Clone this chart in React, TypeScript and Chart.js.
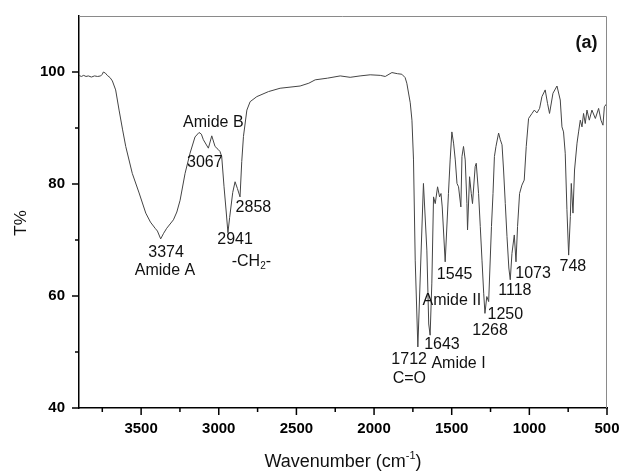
import React, { useEffect, useRef } from 'react';
import { Chart, registerables } from 'chart.js';

Chart.register(...registerables);

const FONT = '"Liberation Sans", Arial, Helvetica, sans-serif';

// Spectrum (wavenumber cm-1, transmittance %)
const wavenumbers = [
  3900, 3885, 3870, 3855, 3840, 3820, 3800, 3780, 3760, 3750, 3743, 3730, 3718, 3700, 3685, 3664, 3642, 3620, 3599,
  3557, 3513, 3470, 3440, 3410, 3395, 3374, 3355, 3335, 3292, 3270, 3249, 3217, 3185, 3153, 3127, 3112, 3099, 3067,
  3045, 3024, 3005, 2992, 2981, 2966, 2952, 2941, 2930, 2910, 2895, 2880, 2863, 2852, 2841, 2819, 2798, 2755, 2680,
  2605, 2476, 2420, 2379, 2300, 2218, 2154, 2090, 2025, 1960, 1928, 1885, 1850, 1821, 1800, 1789, 1767, 1756, 1746,
  1735, 1718, 1682, 1660, 1648, 1639, 1628, 1617, 1606, 1591, 1578, 1569, 1561, 1542, 1521, 1510, 1499, 1488, 1477,
  1466, 1456, 1441, 1434, 1424, 1413, 1402, 1398, 1385, 1374, 1366, 1349, 1342, 1327, 1316, 1305, 1294, 1286, 1274,
  1262, 1254, 1244, 1234, 1225, 1215, 1198, 1187, 1176, 1166, 1155, 1144, 1132, 1123, 1112, 1097, 1086, 1076, 1063,
  1048, 1033, 1020, 1005, 983, 968, 951, 934, 919, 898, 883, 870, 848, 822, 801, 790, 780, 769, 758, 747, 736, 730,
  719, 709, 693, 683, 672, 661, 651, 640, 629, 614, 597, 575, 554, 539, 526, 517, 500,
];
const transmittance = [
  99.4, 99.2, 99.4, 99.2, 99.3, 99.1, 99.3, 99.2, 99.3, 99.6, 100.0, 99.8, 99.4, 99.0, 98.4, 96.8, 93.2, 89.8, 86.7,
  81.9, 78.4, 74.8, 73.2, 72.1, 71.6, 70.2, 71.2, 72.1, 73.6, 75.0, 77.1, 81.9, 85.5, 88.4, 89.2, 88.9, 87.9, 86.4,
  88.6, 86.7, 86.2, 85.8, 84.9, 79.5, 75.0, 71.3, 74.0, 78.5, 80.4, 79.2, 77.7, 84.0, 88.5, 93.2, 94.7, 95.6, 96.5,
  97.1, 97.5, 98.0, 98.6, 98.9, 99.3, 99.05, 99.3, 99.5, 99.4, 99.2, 99.9, 99.7, 99.6, 99.0, 98.0, 94.5, 91.4, 84.3,
  66.4, 50.9, 80.1, 68.2, 55.0, 53.0, 62.3, 77.7, 76.5, 79.5, 77.7, 78.3, 75.9, 66.1, 78.3, 84.3, 89.3, 87.3, 84.3,
  80.1, 79.5, 75.9, 84.9, 86.7, 84.3, 76.5, 71.8, 81.3, 78.3, 76.5, 83.1, 83.7, 78.3, 72.4, 66.4, 60.5, 56.9, 59.9,
  59.0, 65.0, 72.4, 78.3, 84.9, 86.7, 89.1, 87.9, 87.0, 82.5, 76.5, 70.6, 65.0, 62.9, 67.6, 70.9, 66.1, 72.4, 78.3,
  79.8, 80.7, 86.7, 91.7, 92.6, 93.2, 92.7, 93.5, 95.6, 96.8, 94.4, 92.6, 96.2, 97.5, 95.0, 90.2, 89.3, 85.5, 75.4, 67.3, 74.2, 80.1,
  74.8, 82.5, 87.3, 89.3, 91.4, 90.2, 92.6, 90.8, 93.2, 91.4, 93.2, 91.7, 93.5, 91.4, 90.5, 93.8, 94.4,
];

// Axis ranges / ticks
const xMin = 500;
const xMax = 3900;
const xMinorStep = 250;
const xMajorStep = 500;
const yMin = 40;
const yMax = 110;
const yMinorStep = 10;
const yMajorStep = 20;
const yLabelMax = 100;

// Peak annotations (text, wavenumber, transmittance)
const labelTexts = [
  'Amide B', '3067', '2858', '2941', '-CH_{2}-', '3374', 'Amide A', '1545', 'Amide II', '1250', '1268',
  '1118', '1073', '748', '1643', '1712', 'Amide I', 'C=O',
];
const labelWavenumbers = [
  3035, 3090, 2777, 2895, 2790, 3339, 3346, 1481, 1499, 1155, 1253, 1093, 976, 720, 1563, 1774, 1456, 1773,
];
const labelValues = [
  91.0, 83.9, 75.7, 70.0, 66.1, 67.7, 64.6, 63.9, 59.1, 56.6, 53.8, 61.0, 64.0, 65.2, 51.25, 48.6, 48.0, 45.3,
];
const panelLabel = '(a)';
const panelWavenumber = 632;
const panelValue = 105.1;

const xTitle = 'Wavenumber (cm^{-1})';
const yTitle = 'T%';

type Part = { t: string; k: 'n' | 'sub' | 'sup' };
function parseRich(text: string): Part[] {
  const parts: Part[] = [];
  const re = /(_\{[^}]*\}|\^\{[^}]*\})/g;
  let last = 0;
  let m: RegExpExecArray | null;
  while ((m = re.exec(text))) {
    if (m.index > last) parts.push({ t: text.slice(last, m.index), k: 'n' });
    const s = m[0];
    parts.push({ t: s.slice(2, -1), k: s[0] === '_' ? 'sub' : 'sup' });
    last = m.index + s.length;
  }
  if (last < text.length) parts.push({ t: text.slice(last), k: 'n' });
  return parts;
}

function drawRich(ctx: CanvasRenderingContext2D, text: string, x: number, y: number, size: number, weight: string) {
  const parts = parseRich(text);
  const small = Math.round(size * 0.62);
  const fontFor = (p: Part) => `${weight} ${p.k === 'n' ? size : small}px ${FONT}`;
  let total = 0;
  const widths = parts.map((p) => {
    ctx.font = fontFor(p);
    const w = ctx.measureText(p.t).width;
    total += w;
    return w;
  });
  let cx = x - total / 2;
  ctx.textAlign = 'left';
  parts.forEach((p, i) => {
    ctx.font = fontFor(p);
    const dy = p.k === 'sub' ? size * 0.28 : p.k === 'sup' ? -size * 0.42 : 0;
    ctx.fillText(p.t, cx, y + dy);
    cx += widths[i];
  });
}

const decorPlugin = {
  id: 'decor',
  afterDraw(chart: any) {
    const { ctx, chartArea } = chart;
    const xs = chart.scales.x;
    const ys = chart.scales.y;
    ctx.save();
    // top & right frame
    ctx.strokeStyle = '#8a8a8a';
    ctx.lineWidth = 1;
    ctx.beginPath();
    ctx.moveTo(chartArea.left, chartArea.top + 0.5);
    ctx.lineTo(chartArea.right - 0.5, chartArea.top + 0.5);
    ctx.lineTo(chartArea.right - 0.5, chartArea.bottom);
    ctx.stroke();

    // tick marks (outward)
    ctx.strokeStyle = '#000';
    ctx.lineWidth = 1.5;
    xs.ticks.forEach((t: any) => {
      const px = xs.getPixelForValue(t.value);
      const len = t.value % xMajorStep === 0 ? 7 : 4;
      ctx.beginPath();
      ctx.moveTo(px, chartArea.bottom);
      ctx.lineTo(px, chartArea.bottom + len);
      ctx.stroke();
    });
    ys.ticks.forEach((t: any) => {
      if (t.value > yLabelMax) return;
      const py = ys.getPixelForValue(t.value);
      const len = t.value % yMajorStep === 0 ? 7 : 4;
      ctx.beginPath();
      ctx.moveTo(chartArea.left - len, py);
      ctx.lineTo(chartArea.left, py);
      ctx.stroke();
    });

    // annotations
    ctx.fillStyle = '#111';
    ctx.textBaseline = 'middle';
    labelTexts.forEach((txt, i) => {
      drawRich(ctx, txt, xs.getPixelForValue(labelWavenumbers[i]), ys.getPixelForValue(labelValues[i]), 16, 'normal');
    });
    drawRich(ctx, panelLabel, xs.getPixelForValue(panelWavenumber), ys.getPixelForValue(panelValue), 18, 'bold');

    // axis titles
    ctx.textBaseline = 'alphabetic';
    drawRich(ctx, xTitle, (chartArea.left + chartArea.right) / 2, chartArea.bottom + 59, 18, 'normal');
    ctx.save();
    ctx.translate(26, (chartArea.top + chartArea.bottom) / 2 + 11);
    ctx.rotate(-Math.PI / 2);
    drawRich(ctx, yTitle, 0, 0, 17, 'normal');
    ctx.restore();
    ctx.restore();
  },
};

export default function App() {
  const ref = useRef<HTMLCanvasElement | null>(null);
  useEffect(() => {
    document.body.style.margin = '0';
    const canvas = ref.current;
    if (!canvas) return;
    const chart = new Chart(canvas, {
      type: 'line',
      data: {
        datasets: [
          {
            data: wavenumbers.map((w, i) => ({ x: w, y: transmittance[i] })),
            borderColor: '#444444',
            borderWidth: 1,
            pointRadius: 0,
            tension: 0,
            fill: false,
          },
        ],
      },
      options: {
        animation: false,
        responsive: false,
        maintainAspectRatio: false,
        parsing: false,
        layout: { padding: { top: 16, right: 15, bottom: 0, left: 0 } },
        plugins: { legend: { display: false }, tooltip: { enabled: false }, title: { display: false } },
        scales: {
          x: {
            type: 'linear',
            reverse: true,
            min: xMin,
            max: xMax,
            afterFit: (s: any) => {
              s.height = 64;
              s.paddingLeft = 0;
              s.paddingRight = 0;
            },
            grid: { display: false, drawTicks: false },
            border: { display: true, color: '#000', width: 1.5 },
            ticks: {
              stepSize: xMinorStep,
              includeBounds: false,
              autoSkip: false,
              maxRotation: 0,
              padding: 12,
              color: '#000',
              font: { family: FONT, size: 15, weight: 'bold' },
              callback: (v: any) => (Number(v) % xMajorStep === 0 ? String(v) : ''),
            },
          },
          y: {
            type: 'linear',
            min: yMin,
            max: yMax,
            afterFit: (s: any) => {
              s.width = 79;
              s.paddingTop = 0;
              s.paddingBottom = 0;
            },
            grid: { display: false, drawTicks: false },
            border: { display: true, color: '#000', width: 1.5 },
            ticks: {
              stepSize: yMinorStep,
              includeBounds: false,
              autoSkip: false,
              padding: 14,
              color: '#000',
              font: { family: FONT, size: 15, weight: 'bold' },
              callback: (v: any) => (Number(v) % yMajorStep === 0 && Number(v) <= yLabelMax ? String(v) : ''),
            },
          },
        },
      },
      plugins: [decorPlugin],
    });
    return () => chart.destroy();
  }, []);
  return (
    <div style={{ width: 622, height: 472, background: '#fff' }}>
      <canvas ref={ref} width={622} height={472} style={{ display: 'block' }} />
    </div>
  );
}
